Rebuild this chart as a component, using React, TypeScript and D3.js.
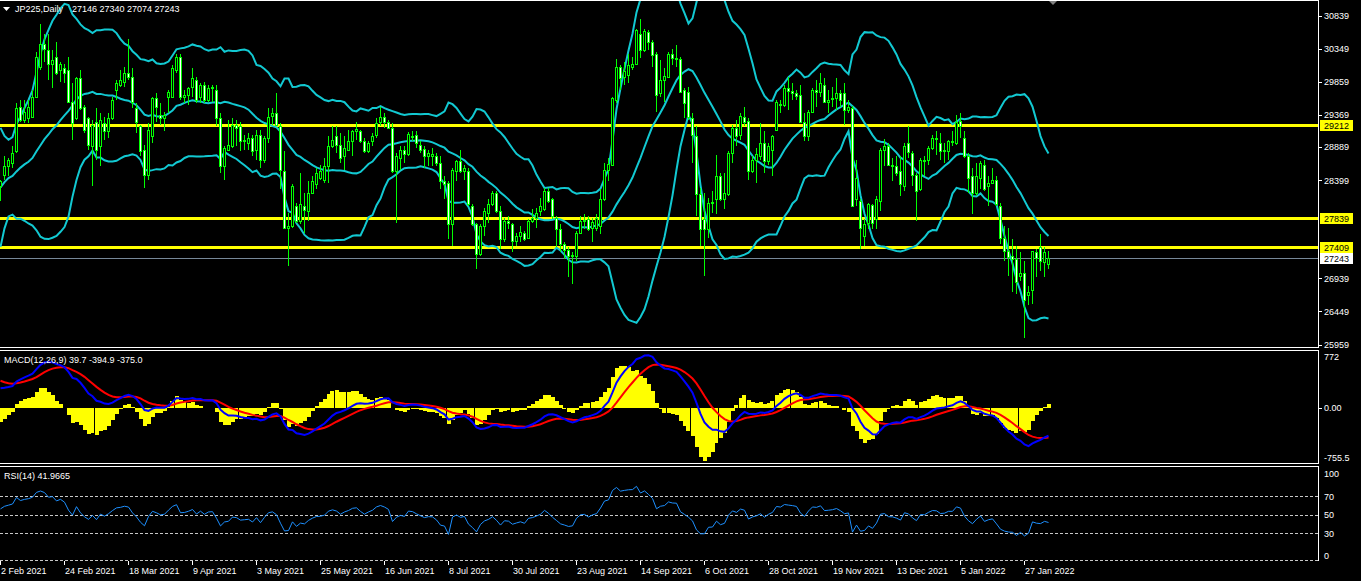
import React from "react";
import * as d3 from "d3";

// ---- price bars (JP225 daily) ----
const opens = [
28308,28480,28603,28652,28824,29488,29291,29316,29340,29635,
30077,30421,30323,30117,30225,30028,30053,30038,29561,29316,
29905,29488,29316,28898,29266,28898,29242,29119,29316,29733,
29807,29856,29979,29930,29463,29193,28849,28480,29045,29610,
29365,29316,29635,29635,30028,30225,29635,29660,29782,29881,
29635,29807,29586,29758,29733,29316,28603,28849,28898,29217,
29193,28971,28947,29021,28849,29070,28701,29021,29350,29389,
29193,28529,27694,27719,28013,27792,28013,27940,28210,28333,
28431,28406,28603,28898,29045,28922,28750,28849,28971,29119,
29119,28971,28824,28971,29070,29252,29330,29266,29168,28529,
28726,28849,28790,29045,29070,28922,28859,28760,28760,28750,
28652,28382,28357,27743,28529,28677,28529,28529,28013,27743,
27301,27719,27915,28038,28210,27940,27522,27792,27743,27497,
27571,27620,27532,27792,27841,27940,27964,28235,28112,27841,
27669,27448,27365,27267,27276,27620,27792,27817,27694,27694,
27719,28112,28554,28628,29586,30077,29930,29954,30077,30126,
30569,30323,30593,30446,30274,29684,29881,29930,30274,30215,
30200,29733,29709,29316,29045,28186,27817,27669,28062,28112,
28456,28112,28186,28800,29168,29070,29340,29281,28529,28701,
28750,28947,28677,28849,29144,29512,29512,29758,29723,29684,
29660,29266,29045,29414,29733,29709,29807,29561,29596,29620,
29694,29684,29438,29463,28112,28087,27571,27768,28023,27817,
28087,28849,28898,28628,28603,28529,28308,28947,28800,28480,
28259,28701,28701,28873,29021,28947,28824,28824,28957,28947,
29281,29021,28750,28456,28210,28431,28628,28308,28357,28406,
28013,27546,27350,27267,27227,26981,27021,26686,26760,27325,
27399,27178,27146];
const highs = [
28406,28750,28726,28898,29537,29586,29586,29586,29733,30298,
30716,30569,30569,30323,30446,30151,30126,30225,29832,29930,
30028,29512,29340,29291,29463,29389,29340,29389,29635,29881,
30028,30077,30495,30053,29537,29217,28922,29242,29635,29684,
29537,29414,29733,30102,30274,30274,29733,29782,30053,29930,
29832,29856,29807,29807,29807,29389,28898,29291,29316,29291,
29266,29070,29094,29070,29144,29144,29045,29463,29463,29684,
29242,28824,27915,28333,28062,28505,28210,28382,28456,28578,
28628,28726,29045,29193,29193,29094,29045,29144,29144,29266,
29144,29021,28971,29094,29316,29488,29389,29291,29242,28800,
28898,28898,29104,29119,29119,28971,28898,28849,28873,28800,
28750,28456,28382,28578,28701,28849,28628,28578,28038,27768,
27743,27989,28112,28235,28235,28013,27841,27866,27768,27620,
27718,27645,27817,27964,27989,28136,28284,28284,28136,27866,
27743,27473,27399,27325,27645,27866,27891,27866,27841,27891,
28259,28652,28726,29635,30200,30102,30151,30274,30225,30642,
30790,30642,30618,30470,30298,30176,30053,30298,30347,30397,
30225,29758,29773,29389,29193,28284,28210,28136,28235,28775,
28505,28505,28824,29217,29291,29389,29488,29316,28750,28873,
29242,29119,28947,29070,29586,29586,29807,29930,29832,29733,
29807,29389,29438,29758,29881,29979,29905,29733,29782,29905,
29733,29832,29586,29497,28701,28112,27817,28062,28038,28161,
28873,29000,28947,28726,28750,28750,28947,29193,28824,28505,
28726,28750,28898,29070,29119,29094,28947,28996,29119,29365,
29389,29119,28800,28578,28652,28677,28701,28456,28578,28456,
28062,27719,27694,27522,27424,27325,27202,26834,27350,27375,
27596,27399,27340];
const lows = [
28087,28406,28456,28578,28800,29266,29242,29242,29316,29635,
30028,30151,29881,29758,29954,29856,29832,29561,28996,29291,
29438,29094,28849,28308,28701,28603,28996,29021,29291,29586,
29782,29782,29881,29463,29094,28750,28284,28406,28947,29266,
29217,29119,29389,29610,29979,29586,29537,29512,29635,29537,
29537,29537,29561,29561,29193,28505,28406,28824,28873,28898,
28824,28849,28849,28750,28701,28578,28652,28947,29217,29193,
28259,27669,27129,27694,27768,27743,27620,27792,28186,28259,
28406,28357,28357,28873,28800,28652,28554,28824,28750,28996,
28947,28800,28800,28898,29021,29193,29168,29153,28505,27768,
28554,28652,28750,28971,28873,28800,28578,28603,28603,28603,
28259,28112,27522,27424,28382,28505,28406,28013,27718,27080,
27276,27571,27768,28013,27915,27375,27473,27669,27325,27424,
27473,27497,27522,27768,27694,27866,27940,28062,27817,27399,
27325,27227,26957,26858,27202,27596,27669,27645,27473,27645,
27596,28087,28382,28603,29537,29733,29807,29832,30028,30102,
30210,30298,30323,30077,29414,29635,29561,29905,30102,30077,
29684,29316,29291,28652,27866,27424,26981,27546,27915,27891,
28087,27964,28161,28652,28898,28996,29193,28406,28505,28357,
28701,28505,28628,28456,29119,29389,29488,29438,29586,29586,
29242,28971,28971,29389,29488,29635,29537,29389,29488,29438,
29488,29217,29389,28003,28013,27375,27424,27669,27669,27669,
27940,28603,28603,28382,28456,28161,28235,28726,28308,27792,
28235,28456,28628,28849,28775,28701,28652,28701,28898,28922,
29021,28726,28210,27891,28161,28259,28235,28013,28333,28013,
27448,27202,26982,26736,26711,26908,26048,26539,26564,26957,
27055,26957,27074];
const closes = [
28382,28603,28701,28800,29463,29291,29414,29488,29635,30225,
30421,30347,30126,30185,29979,30126,29989,29561,29242,29905,
29463,29144,28922,29217,28849,29291,29119,29316,29586,29832,
29881,29979,29930,29561,29266,28824,28480,29144,29610,29488,
29316,29365,29709,30053,30225,29635,29660,29758,29905,29586,
29807,29586,29758,29782,29316,28603,28873,28922,29217,29168,
28971,28996,29021,28824,29070,28701,29021,29340,29399,29217,
28554,27694,27719,28308,27792,28038,27954,28210,28382,28505,
28529,28603,28898,28996,28922,28726,28873,28971,29119,29153,
28971,28824,28947,29045,29242,29330,29266,29168,28529,28750,
28849,28790,29080,29055,28947,28849,28760,28800,28790,28652,
28382,28333,27743,28554,28677,28529,28578,28038,27743,27301,
27719,27940,28038,28210,27940,27522,27792,27758,27497,27571,
27635,27522,27792,27832,27915,28013,28235,28087,27866,27669,
27448,27365,27267,27291,27620,27792,27812,27679,27782,27832,
28112,28554,28642,29610,30077,29905,30018,30102,30126,30618,
30323,30608,30446,30249,29660,29881,29940,30274,30215,30205,
29709,29537,29340,29070,28186,27669,27669,28062,28077,28456,
28112,28200,28800,29168,29055,29350,29266,28529,28701,28790,
28947,28677,28898,29045,29561,29522,29758,29723,29694,29650,
29266,29045,29414,29733,29709,29832,29561,29586,29620,29694,
29586,29438,29478,28013,28431,27694,27743,28038,27758,28112,
28849,28908,28628,28613,28505,28333,28898,28809,28480,28235,
28701,28682,28873,29021,29001,28824,28849,28971,28971,29266,
29203,28750,28431,28210,28456,28652,28259,28357,28406,28038,
27546,27350,27252,27227,26883,27021,26613,26736,27350,27237,
27202,27325,27243];
// closes before the first visible bar (indicator warm-up only)
const warmupCloses = [
26547,26467,26817,26756,26652,26732,26687,26757,26806,26763,
26714,26436,26524,26668,26660,26854,27568,27444,27400,27258,
27158,27055,27490,28139,28150,28164,28456,28698,28519,28242,
28633,28523,28756,28631,28822,28546,28635,28197,27663,28091];

// ---- chart annotations / axes ----
const levelLines = [29212, 27839, 27409];
const bidPrice = 27243;
const priceTicks = [30839, 30349, 29859, 29369, 28889, 28399, 26939, 26449, 25959];
const timeTickBars = [0, 16, 32, 48, 64, 80, 96, 112, 128, 144, 160, 176, 192, 208, 224, 240, 256];
const timeTickLabels = ["2 Feb 2021", "24 Feb 2021", "18 Mar 2021", "9 Apr 2021", "3 May 2021", "25 May 2021",
  "16 Jun 2021", "8 Jul 2021", "30 Jul 2021", "23 Aug 2021", "14 Sep 2021", "6 Oct 2021", "28 Oct 2021",
  "19 Nov 2021", "13 Dec 2021", "5 Jan 2022", "27 Jan 2022"];
const macdRange = [-755.5, 772];
const macdHeaderValues = ["39.7", "-394.9", "-375.0"];
const rsiLevels = [70, 50, 30];
const rsiLabels = [100, 70, 50, 30, 0];
const rsiHeaderValue = "41.9665";

const FONT = "'Liberation Sans', Arial, sans-serif";
const CYAN = "#12c9d2";
const LIME = "#00ff00";

function ema(vals: number[], p: number) {
  const a = 2 / (p + 1);
  const out: number[] = [];
  vals.forEach((v, i) => out.push(i === 0 ? v : out[i - 1] + a * (v - out[i - 1])));
  return out;
}

export default function App() {
  const n = closes.length;
  const xB = d3.scaleLinear().domain([0, n - 1]).range([0.5, 4 * (n - 1) + 0.5]);
  const yP = d3.scaleLinear().domain([25959, 30839]).range([344.5, 15.5]);
  const yM = d3.scaleLinear().domain(macdRange).range([464, 350]);
  const yR = d3.scaleLinear().domain([0, 100]).range([560.75, 468.25]);

  const all = warmupCloses.concat(closes);
  const off = warmupCloses.length;
  const e12 = ema(all, 12);
  const e26 = ema(all, 26);
  const macd = all.map((_, t) => e12[t] - e26[t]);
  const signal = ema(macd, 9);
  const hist = macd.map((m, t) => 2 * (m - signal[t]));
  const bb = all.map((_, t) => {
    const w = all.slice(Math.max(0, t - 19), t + 1);
    const m = d3.mean(w) as number;
    const sd = Math.sqrt(d3.mean(w.map((v) => (v - m) ** 2)) as number);
    return { m, u: m + 2 * sd, l: m - 2 * sd };
  });
  const rsi: number[] = new Array(all.length).fill(50);
  let ag = 0, al = 0;
  for (let t = 1; t < all.length; t++) {
    const ch = all[t] - all[t - 1];
    const g = Math.max(ch, 0), l = Math.max(-ch, 0);
    if (t <= 14) {
      ag += g / 14; al += l / 14;
    } else {
      ag = (ag * 13 + g) / 14; al = (al * 13 + l) / 14;
    }
    if (t >= 14) rsi[t] = al === 0 ? 100 : 100 - 100 / (1 + ag / al);
  }

  const idx = d3.range(n);
  const lineP = (acc: (i: number) => number) =>
    d3.line<number>().x((i) => xB(i)).y((i) => yP(acc(i))).curve(d3.curveLinear)(idx) as string;
  const lineM = (arr: number[]) => d3.line<number>().x((i) => xB(i)).y((i) => yM(arr[i + off]))(idx) as string;
  const rsiPath = d3.line<number>().x((i) => xB(i)).y((i) => yR(rsi[i + off]))(idx) as string;

  const last = n - 1;
  const R = 1318;

  return (
    <svg width={1361} height={581} style={{ position: "fixed", left: 0, top: 0, background: "#000" }}
      fontFamily={FONT} fontSize={9}>
      <defs>
        <clipPath id="cMain"><rect x={0} y={1} width={R} height={346} /></clipPath>
        <clipPath id="cMacd"><rect x={0} y={351} width={R} height={112} /></clipPath>
        <clipPath id="cRsi"><rect x={0} y={467} width={R} height={95} /></clipPath>
      </defs>
      <rect x={0} y={0} width={1361} height={581} fill="#000" />

      {/* ---------- main panel ---------- */}
      <g clipPath="url(#cMain)">
        <line x1={0} x2={R} y1={Math.round(yP(bidPrice)) + 0.5} y2={Math.round(yP(bidPrice)) + 0.5}
          stroke="#778899" strokeWidth={1} />
        {levelLines.map((v) => (
          <line key={v} x1={0} x2={R} y1={Math.round(yP(v)) + 0.5} y2={Math.round(yP(v)) + 0.5}
            stroke="#ffff00" strokeWidth={3} />
        ))}
        <g fill="none" stroke={CYAN} strokeWidth={2}>
          <path d={lineP((i) => bb[i + off].u)} />
          <path d={lineP((i) => bb[i + off].m)} />
          <path d={lineP((i) => bb[i + off].l)} />
        </g>
        <g shapeRendering="crispEdges">
          {idx.map((i) => {
            const o = opens[i], c = closes[i];
            const hi = Math.max(highs[i], o, c), lo = Math.min(lows[i], o, c);
            const cx = Math.round(xB(i) - 0.5);
            const yh = Math.round(yP(hi)), yl = Math.round(yP(lo));
            const bt = Math.round(yP(Math.max(o, c))), bb2 = Math.round(yP(Math.min(o, c)));
            const bh = Math.max(1, bb2 - bt);
            return (
              <g key={i}>
                <rect x={cx} y={yh} width={1} height={Math.max(1, yl - yh)} fill={LIME} />
                <rect x={cx - 1} y={bt} width={3} height={bh + 1} fill={LIME} />
                {bh > 1 && <rect x={cx} y={bt + 1} width={1} height={bh - 1} fill={c < o ? "#ffffff" : "#000000"} />}
              </g>
            );
          })}
        </g>
      </g>
      <polygon points="1048,0 1058,0 1053,5" fill="#808080" />
      <polygon points="3,7 10,7 6.5,11" fill="#ffffff" />
      <text x={15} y={12} fill="#fff">JP225,Daily</text>
      <text x={72} y={12} fill="#fff" style={{ whiteSpace: "pre" }}>
        {`${opens[last]} ${highs[last]} ${lows[last]} ${closes[last]}`}
      </text>

      {/* ---------- MACD panel ---------- */}
      <g clipPath="url(#cMacd)">
        <g fill="#ffff00" shapeRendering="crispEdges">
          {idx.map((i) => {
            const v = hist[i + off];
            const y0 = yM(0), y1 = yM(v);
            return <rect key={i} x={Math.round(xB(i)) - 2} y={Math.min(y0, y1)} width={4} height={Math.abs(y1 - y0)} />;
          })}
        </g>
        <path d={lineM(signal)} fill="none" stroke="#ff0000" strokeWidth={2} />
        <path d={lineM(macd)} fill="none" stroke="#0000ff" strokeWidth={2} />
      </g>
      <text x={4} y={363} fill="#fff">{`MACD(12,26,9) ${macdHeaderValues.join(" ")}`}</text>

      {/* ---------- RSI panel ---------- */}
      <g stroke="#c8c8c8" strokeWidth={1} strokeDasharray="3,2" shapeRendering="crispEdges">
        {rsiLevels.map((v) => (
          <line key={v} x1={0} x2={R} y1={Math.round(yR(v)) + 0.5} y2={Math.round(yR(v)) + 0.5} />
        ))}
        <line x1={0} x2={R} y1={560.5} y2={560.5} />
      </g>
      <g clipPath="url(#cRsi)">
        <path d={rsiPath} fill="none" stroke="#1e90ff" strokeWidth={1} />
      </g>
      <text x={4} y={479} fill="#fff">{`RSI(14) ${rsiHeaderValue}`}</text>

      {/* ---------- frames ---------- */}
      <g stroke="#fff" strokeWidth={1} shapeRendering="crispEdges" fill="none">
        <line x1={0} x2={R + 1} y1={0.5} y2={0.5} />
        <line x1={0} x2={R + 1} y1={347.5} y2={347.5} />
        <line x1={0} x2={R + 1} y1={350.5} y2={350.5} />
        <line x1={0} x2={R + 1} y1={463.5} y2={463.5} />
        <line x1={0} x2={R + 1} y1={466.5} y2={466.5} />
        <line x1={R + 0.5} x2={R + 0.5} y1={0} y2={348} />
        <line x1={R + 0.5} x2={R + 0.5} y1={350} y2={464} />
        <line x1={R + 0.5} x2={R + 0.5} y1={466} y2={561} />
      </g>

      {/* ---------- price axis ---------- */}
      <g fill="#fff">
        {priceTicks.map((v) => (
          <g key={v}>
            <rect x={1319} y={Math.round(yP(v))} width={3} height={1} />
            <text x={1324} y={yP(v) + 3.5}>{v}</text>
          </g>
        ))}
      </g>
      {levelLines.map((v) => (
        <g key={v}>
          <rect x={1320} y={Math.round(yP(v)) - 5} width={33} height={11} fill="#ffff00" />
          <text x={1324} y={Math.round(yP(v)) + 4} fill="#000">{v}</text>
        </g>
      ))}
      <rect x={1320} y={Math.round(yP(bidPrice)) - 5} width={33} height={11} fill="#ffffff" />
      <text x={1324} y={Math.round(yP(bidPrice)) + 4} fill="#000">{bidPrice}</text>

      {/* ---------- MACD axis ---------- */}
      <g fill="#fff">
        <text x={1324} y={360}>{macdRange[1]}</text>
        <rect x={1319} y={Math.round(yM(0))} width={3} height={1} />
        <text x={1324} y={yM(0) + 3.5}>0.00</text>
        <text x={1324} y={460.5}>{macdRange[0]}</text>
      </g>

      {/* ---------- RSI axis ---------- */}
      <g fill="#fff">
        {rsiLabels.map((v) => (
          <text key={v} x={1324} y={Math.min(558.5, Math.max(476.5, yR(v) + 3.5))}>{v}</text>
        ))}
      </g>

      {/* ---------- time axis ---------- */}
      <g fill="#fff">
        {timeTickBars.map((b, k) => (
          <g key={b}>
            <rect x={Math.round(xB(b)) - 1} y={561} width={1} height={4} />
            <text x={xB(b) + 0.5} y={574}>{timeTickLabels[k]}</text>
          </g>
        ))}
      </g>
    </svg>
  );
}
